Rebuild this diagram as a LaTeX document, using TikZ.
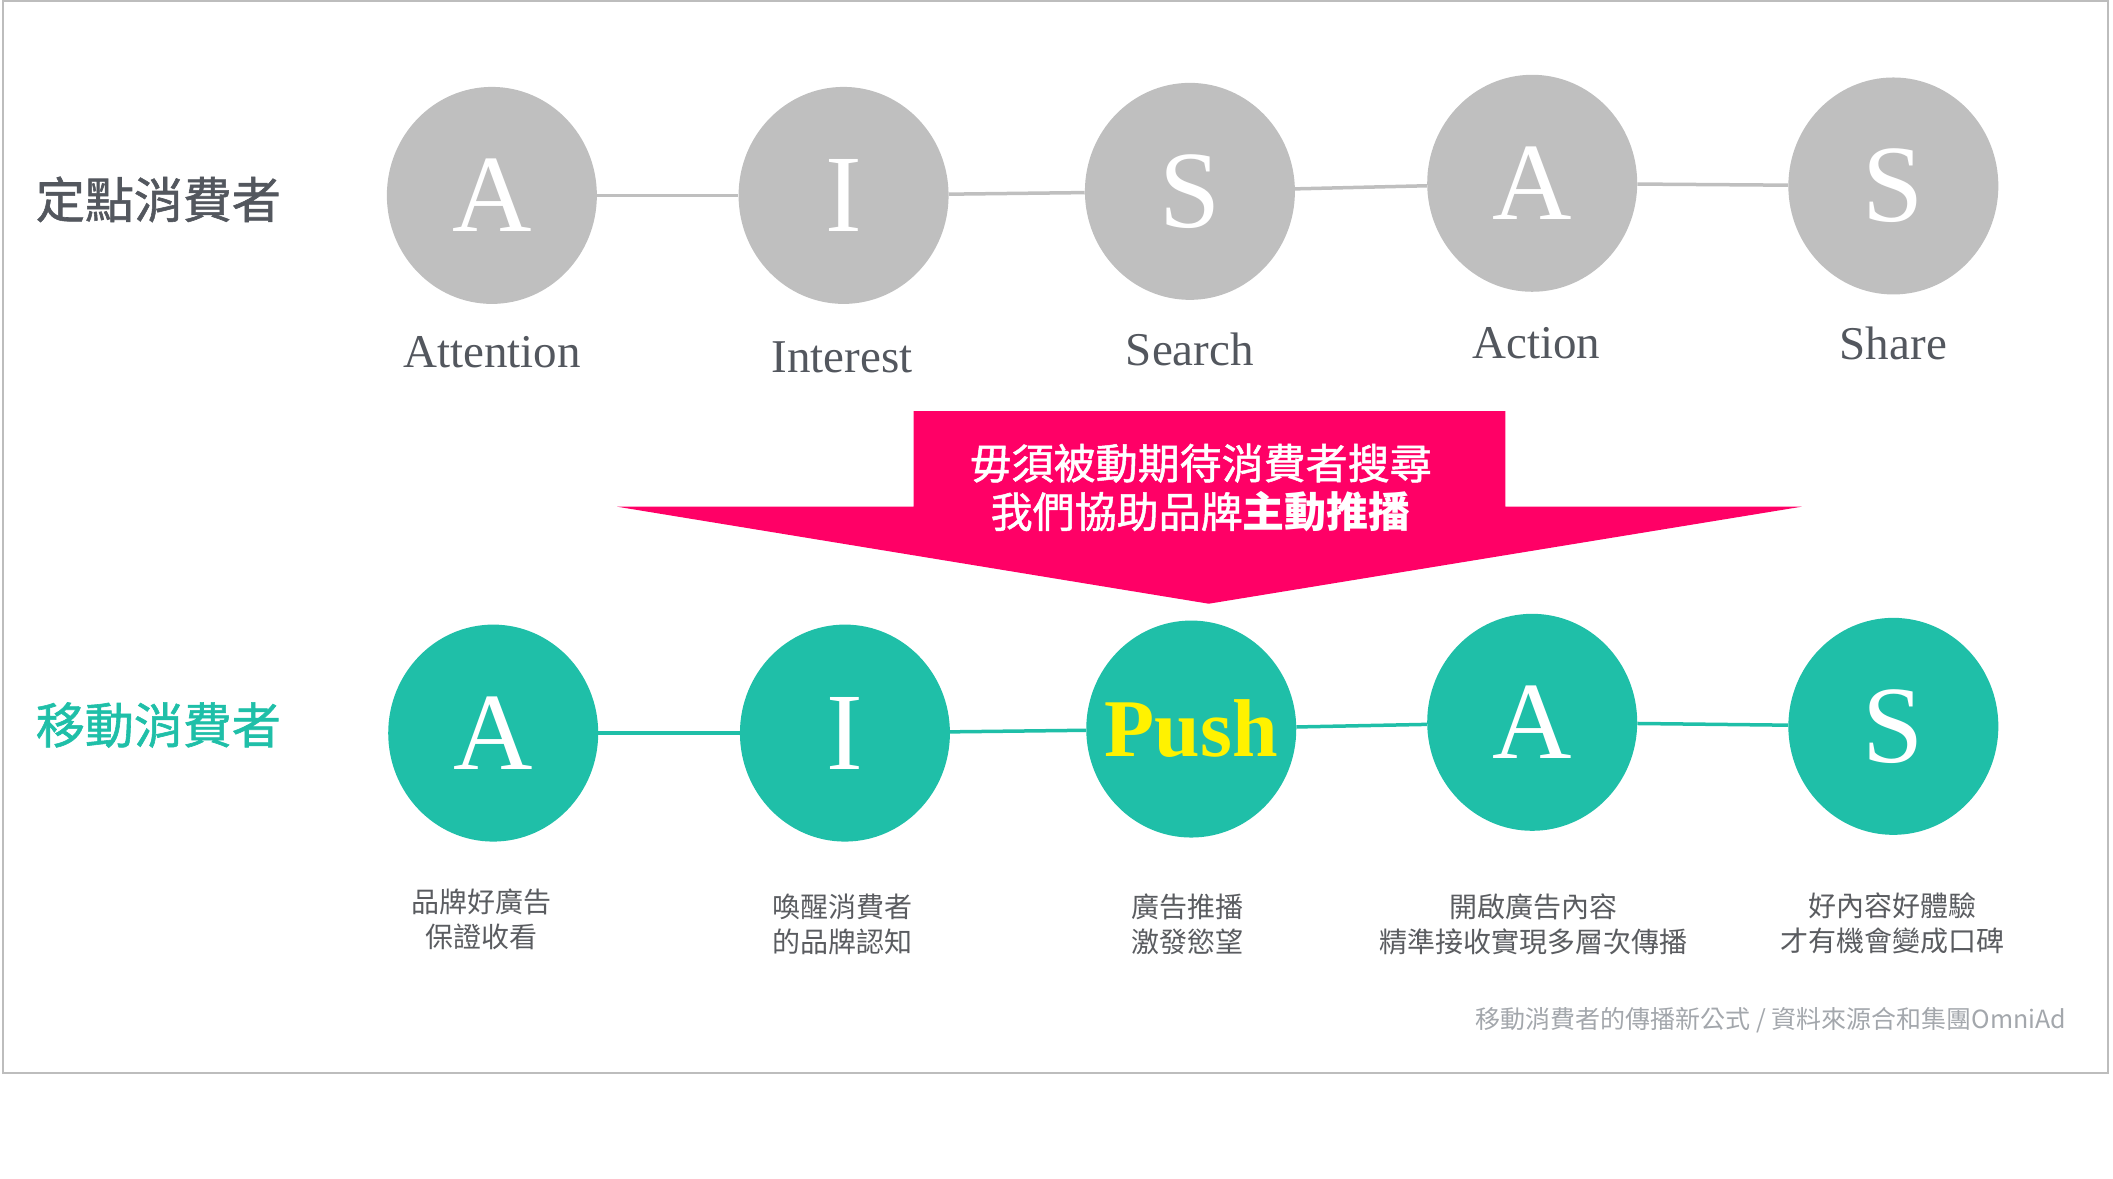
\documentclass[tikz,border=0pt]{standalone}
\usepackage{fontspec}
\usepackage{xcolor}
\usepackage{tikz}
\usetikzlibrary{shapes.geometric}

\setmainfont{Liberation Serif}
\newfontfamily\cjk{Noto Sans CJK TC}
\newfontfamily\cjkmid{Noto Sans CJK TC}[FakeBold=1.2]

\definecolor{dotgray}{HTML}{BFBFBF}
\definecolor{mobteal}{HTML}{1FBFA8}
\definecolor{pushpink}{HTML}{FF0066}
\definecolor{labelgray}{HTML}{53575E}
\definecolor{notegray}{HTML}{5A5C60}
\definecolor{footgray}{HTML}{A3A7AC}
\definecolor{framegray}{HTML}{BDBDBD}

\tikzset{
  stage/.style={ellipse, minimum width=210pt, minimum height=217pt, inner sep=0pt,
    text=white, font=\fontsize{110}{110}\selectfont},
  fixedstage/.style={stage, fill=dotgray},
  mobilestage/.style={stage, fill=mobteal},
  fixedlink/.style={draw=dotgray, line width=3.5pt},
  mobilelink/.style={draw=mobteal, line width=3.5pt},
  stagename/.style={text=labelgray, font=\fontsize{47}{47}\selectfont},
  rowtitle/.style={anchor=west, font=\cjkmid\fontsize{49}{49}\selectfont},
  stagenote/.style={align=center, text=notegray, font=\cjk\fontsize{28}{35}\selectfont},
}

\begin{document}
\begin{tikzpicture}[x=1.3476pt, y=-1.3476pt]
            \useasboundingbox (0,0) rectangle (1568,874.9);
            \draw[framegray, line width=2pt] (2.2,0.8) rectangle (1564.3,796.3);

            % row titles
            \node[rowtitle, text=labelgray] (fixtitle) at (24,148) {定點消費者};
            \node[rowtitle, text=mobteal] (mobtitle) at (24,538) {移動消費者};

            % fixed consumer: A I S A S
            \node[fixedstage] (fixA) at (365,145) {A};
            \node[fixedstage] (fixI) at (626,145) {I};
            \node[fixedstage] (fixS) at (883,142) {S};
            \node[fixedstage] (fixAc) at (1137,136) {A};
            \node[fixedstage] (fixSh) at (1405,138) {S};

            \draw[fixedlink] (fixA) -- (fixI); % A-I
            \draw[fixedlink] (fixI) -- (fixS); % I-S
            \draw[fixedlink] (fixS) -- (fixAc); % S-A
            \draw[fixedlink] (fixAc) -- (fixSh); % A-S

            \node[stagename] (nameA) at (365,261) {Attention};
            \node[stagename] (nameI) at (625,265) {Interest};
            \node[stagename] (nameS) at (883,259) {Search};
            \node[stagename] (nameAc) at (1140,255) {Action};
            \node[stagename] (nameSh) at (1405,255) {Share};

            % pink arrow
            \fill[pushpink] (678,305) -- (1117,305) -- (1117,376) -- (1337,376)
              -- (897,448) -- (458,376) -- (678,376) -- cycle;
            \node[align=center, text=white, font=\cjkmid\fontsize{42}{48.5}\selectfont] (pushtext) at (891,362)
              {毋須被動期待消費者搜尋\\我們協助品牌{\cjk\bfseries 主動推播}};

            % mobile consumer: A I Push A S
            \node[mobilestage] (mobA) at (366,544) {A};
            \node[mobilestage] (mobI) at (627,544) {I};
            \node[mobilestage, text=yellow, font=\bfseries\fontsize{82}{82}\selectfont] (mobPush) at (884,541) {\makebox[0pt]{Push}};
            \node[mobilestage] (mobAc) at (1137,536) {A};
            \node[mobilestage] (mobSh) at (1405,539) {S};

            \draw[mobilelink] (mobA) -- (mobI); % A-I
            \draw[mobilelink] (mobI) -- (mobPush); % I-Push
            \draw[mobilelink] (mobPush) -- (mobAc); % Push-A
            \draw[mobilelink] (mobAc) -- (mobSh); % A-S

            \node[stagenote] (noteA) at (357,682) {品牌好廣告\\保證收看};
            \node[stagenote] (noteI) at (625,686) {喚醒消費者\\的品牌認知};
            \node[stagenote] (notePush) at (881,686) {廣告推播\\激發慾望};
            \node[stagenote] (noteAc) at (1138,686) {開啟廣告內容\\精準接收實現多層次傳播};
            \node[stagenote] (noteSh) at (1404,685) {好內容好體驗\\才有機會變成口碑};

            % source
            \node[anchor=east, text=footgray, font=\cjk\fontsize{25}{25}\selectfont] (source) at (1536,757)
              {移動消費者的傳播新公式 / 資料來源合和集團OmniAd};
        \end{tikzpicture}
\end{document}
